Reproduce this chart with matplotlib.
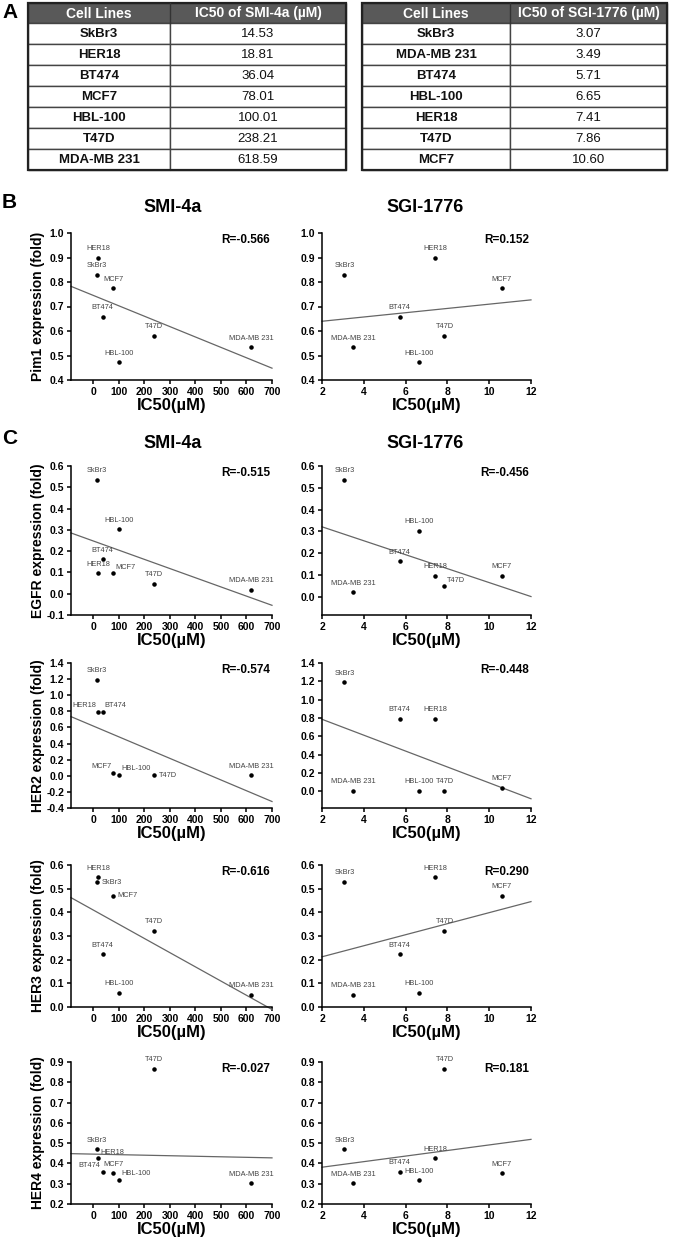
import numpy as np
import matplotlib
matplotlib.use('Agg')
import matplotlib.pyplot as plt
from matplotlib.patches import Rectangle

plt.rcParams['font.family'] = ['Liberation Sans', 'DejaVu Sans']
plt.rcParams['axes.unicode_minus'] = False

W, H = 678, 1241

# ---- data ----
cell_lines = ['SkBr3', 'HER18', 'BT474', 'MCF7', 'HBL-100', 'T47D', 'MDA-MB 231']
ic50_smi = [14.53, 18.81, 36.04, 78.01, 100.01, 238.21, 618.59]
ic50_sgi = [3.07, 7.41, 5.71, 10.60, 6.65, 7.86, 3.49]
sgi_table_order = ['SkBr3', 'MDA-MB 231', 'BT474', 'HBL-100', 'HER18', 'T47D', 'MCF7']

pim1 = [0.83, 0.898, 0.659, 0.774, 0.472, 0.58, 0.534]
egfr = [0.536, 0.095, 0.162, 0.095, 0.302, 0.047, 0.019]
her2 = [1.19, 0.795, 0.795, 0.04, 0.01, 0.005, 0.005]
her3 = [0.528, 0.548, 0.223, 0.47, 0.059, 0.323, 0.052]
her4 = [0.47, 0.425, 0.359, 0.351, 0.318, 0.867, 0.302]

proteins = ['Pim1', 'EGFR', 'HER2', 'HER3', 'HER4']
expr = [pim1, egfr, her2, her3, her4]
r_smi = ['R=-0.566', 'R=-0.515', 'R=-0.574', 'R=-0.616', 'R=-0.027']
r_sgi = ['R=0.152', 'R=-0.456', 'R=-0.448', 'R=0.290', 'R=0.181']

# ---- layout (pixels) ----
rows_px = [(233, 380), (466, 615), (663, 808), (865, 1007), (1062, 1204)]
left_x = (71, 272)
right_x = (322, 531)
ylims_l = [(0.4, 1.0), (-0.1, 0.6), (-0.4, 1.4), (0.0, 0.6), (0.2, 0.9)]
ylims_r = [(0.4, 1.0), (-0.085, 0.6), (-0.18, 1.4), (0.0, 0.6), (0.2, 0.9)]
ytick_l = [np.arange(0.4, 1.01, 0.1), np.arange(-0.1, 0.61, 0.1), np.arange(-0.4, 1.41, 0.2),
           np.arange(0.0, 0.61, 0.1), np.arange(0.2, 0.91, 0.1)]
ytick_r = [np.arange(0.4, 1.01, 0.1), np.arange(0.0, 0.61, 0.1), np.arange(0.0, 1.41, 0.2),
           np.arange(0.0, 0.61, 0.1), np.arange(0.2, 0.91, 0.1)]

# label placement exceptions: (row, col) -> {cell line: where}
special = {
    (1, 0): {'MCF7': 'ur'},
    (1, 1): {'T47D': 'ur'},
    (2, 0): {'HER18': 'ul', 'BT474': 'ur', 'MCF7': 'ul', 'HBL-100': 'ur', 'T47D': 'r'},
    (3, 0): {'SkBr3': 'r', 'MCF7': 'r'},
    (4, 0): {'HER18': 'ur', 'BT474': 'ul', 'HBL-100': 'ur'},
}
offs = {'up': ((0, 4), 'center', 'bottom'), 'ur': ((1.5, 2), 'left', 'bottom'),
        'ul': ((-1.5, 2), 'right', 'bottom'), 'r': ((3, 0), 'left', 'center')}

fig = plt.figure(figsize=(W / 100, H / 100), dpi=100)


def add_ax(xs, ys):
    return fig.add_axes([xs[0] / W, 1 - ys[1] / H, (xs[1] - xs[0]) / W, (ys[1] - ys[0]) / H])


# ---- tables ----
tab = fig.add_axes([0, 0, 1, 1])
tab.set_xlim(0, W)
tab.set_ylim(H, 0)
tab.axis('off')


def draw_table(x0, xm, x1, header, names, vals):
    top, hdr, rh = 3, 20, 21
    tab.add_patch(Rectangle((x0, top), x1 - x0, hdr, fc='#595959', ec='#333333', lw=1))
    tab.plot([xm, xm], [top, top + hdr], color='#333333', lw=1)
    tab.text((x0 + xm) / 2, top + hdr / 2 + 0.5, header[0], color='white', fontsize=10,
             fontweight='bold', ha='center', va='center')
    tab.text((xm + x1) / 2, top + hdr / 2 + 0.5, header[1], color='white', fontsize=10,
             fontweight='bold', ha='center', va='center')
    for i, (n, v) in enumerate(zip(names, vals)):
        y = top + hdr + i * rh
        tab.add_patch(Rectangle((x0, y), xm - x0, rh, fc='white', ec='#444444', lw=1))
        tab.add_patch(Rectangle((xm, y), x1 - xm, rh, fc='white', ec='#444444', lw=1))
        tab.text((x0 + xm) / 2, y + rh / 2 + 0.5, n, fontsize=9.5, fontweight='bold',
                 ha='center', va='center', color='#111111')
        tab.text((xm + x1) / 2, y + rh / 2 + 0.5, '%.2f' % v, fontsize=9.5,
                 ha='center', va='center', color='#111111')
    tab.add_patch(Rectangle((x0, top), x1 - x0, hdr + rh * len(names), fc='none',
                            ec='#222222', lw=1.6))


sgi_vals = [ic50_sgi[cell_lines.index(n)] for n in sgi_table_order]
draw_table(28, 170, 346, ['Cell Lines', 'IC50 of SMI-4a (µM)'], cell_lines, ic50_smi)
draw_table(362, 510, 667, ['Cell Lines', 'IC50 of SGI-1776 (µM)'], sgi_table_order, sgi_vals)

# panel letters and titles
tab.text(2, 13, 'A', fontsize=15, fontweight='bold', va='center')
tab.text(2, 202, 'B', fontsize=15, fontweight='bold', va='center')
tab.text(2, 439, 'C', fontsize=15, fontweight='bold', va='center')
for yy in (208, 444):
    tab.text(173, yy, 'SMI-4a', fontsize=13, fontweight='bold', ha='center', va='center')
    tab.text(425, yy, 'SGI-1776', fontsize=13, fontweight='bold', ha='center', va='center')

# ---- scatter panels ----
for r, (prot, yv) in enumerate(zip(proteins, expr)):
    for c in range(2):
        xs = left_x if c == 0 else right_x
        ax = add_ax(xs, rows_px[r])
        xv = ic50_smi if c == 0 else ic50_sgi
        if c == 0:
            ax.set_xlim(-88, 700)
            ax.set_xticks(np.arange(0, 701, 100))
            ax.set_ylim(*ylims_l[r])
            ax.set_yticks(ytick_l[r])
        else:
            ax.set_xlim(2, 12)
            ax.set_xticks(np.arange(2, 13, 2))
            ax.set_ylim(*ylims_r[r])
            ax.set_yticks(ytick_r[r])
        ax.yaxis.set_major_formatter(matplotlib.ticker.FormatStrFormatter('%.1f'))
        # regression line
        k, b = np.polyfit(xv, yv, 1)
        lx = np.array(ax.get_xlim())
        ax.plot(lx, k * lx + b, color='#666666', lw=0.9, clip_on=False)
        ax.scatter(xv, yv, s=5, color='black', zorder=3, clip_on=False)
        sp = special.get((r, c), {})
        for n, x, y in zip(cell_lines, xv, yv):
            o, ha, va = offs[sp.get(n, 'up')]
            ax.annotate(n, (x, y), xytext=o, textcoords='offset points', fontsize=5.3,
                        ha=ha, va=va, color='#444444')
        ax.text(0.99, 0.95, r_smi[r] if c == 0 else r_sgi[r], transform=ax.transAxes,
                fontsize=8.5, fontweight='bold', ha='right', va='center')
        for s in ('top', 'right'):
            ax.spines[s].set_visible(False)
        for s in ('left', 'bottom'):
            ax.spines[s].set_linewidth(1.1)
        ax.tick_params(length=3, width=1.1, labelsize=7.5, pad=2)
        for lab in ax.get_xticklabels() + ax.get_yticklabels():
            lab.set_fontweight('bold')
        ax.set_xlabel('IC50(µM)', fontsize=12, fontweight='bold', labelpad=1)
        if c == 0:
            ax.set_ylabel(prot + ' expression (fold)', fontsize=10, fontweight='bold')
            ax.yaxis.set_label_coords(-0.13, 0.5)

fig.savefig('out.png', dpi=100)
